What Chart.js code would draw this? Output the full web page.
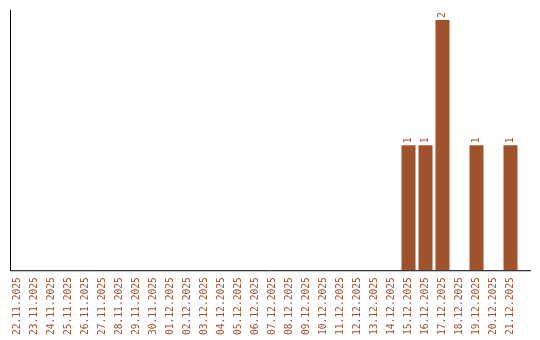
<!DOCTYPE html>
<html>
<head>
<meta charset="utf-8">
<script src="https://cdn.jsdelivr.net/npm/chart.js@4"></script>
<style>
    html, body { margin: 0; padding: 0; background: #ffffff; }
    canvas { display: block; }
</style>
</head>
<body>
<canvas id="dailyChart" width="540" height="340"></canvas>
<script>
const days = [
    '22.11.2025', '23.11.2025', '24.11.2025', '25.11.2025', '26.11.2025',
    '27.11.2025', '28.11.2025', '29.11.2025', '30.11.2025', '01.12.2025',
    '02.12.2025', '03.12.2025', '04.12.2025', '05.12.2025', '06.12.2025',
    '07.12.2025', '08.12.2025', '09.12.2025', '10.12.2025', '11.12.2025',
    '12.12.2025', '13.12.2025', '14.12.2025', '15.12.2025', '16.12.2025',
    '17.12.2025', '18.12.2025', '19.12.2025', '20.12.2025', '21.12.2025'
];
const counts = [
    0, 0, 0, 0, 0,
    0, 0, 0, 0, 0,
    0, 0, 0, 0, 0,
    0, 0, 0, 0, 0,
    0, 0, 0, 1, 1,
    2, 0, 1, 0, 1
];

const barColor = '#a0522d';
const labelFont = '9.6px "DejaVu Sans Mono", monospace';

// axis lines: y on the left, x running a bit past the last bar
const axisLines = {
    id: 'axisLines',
    afterDraw(chart) {
        const { ctx, chartArea } = chart;
        ctx.save();
        ctx.strokeStyle = '#000000';
        ctx.lineWidth = 1;
        ctx.beginPath();
        ctx.moveTo(10.5, chartArea.top);
        ctx.lineTo(10.5, chartArea.bottom + 0.5);
        ctx.lineTo(chartArea.right + 12, chartArea.bottom + 0.5);
        ctx.stroke();
        ctx.restore();
    }
};

// counts written vertically above each bar
const valueLabels = {
    id: 'valueLabels',
    afterDatasetsDraw(chart) {
        const { ctx } = chart;
        const meta = chart.getDatasetMeta(0);
        ctx.save();
        ctx.fillStyle = barColor;
        ctx.font = labelFont;
        ctx.textAlign = 'left';
        ctx.textBaseline = 'middle';
        meta.data.forEach((bar, i) => {
            if (!counts[i]) return;
            ctx.save();
            ctx.translate(bar.x, bar.y - 2);
            ctx.rotate(-Math.PI / 2);
            ctx.fillText(String(counts[i]), 0, 0);
            ctx.restore();
        });
        ctx.restore();
    }
};

new Chart(document.getElementById('dailyChart').getContext('2d'), {
    type: 'bar',
    data: {
        labels: days,
        datasets: [{
            data: counts,
            backgroundColor: barColor,
            borderWidth: 0,
            categoryPercentage: 1,
            barPercentage: 14 / 17
        }]
    },
    options: {
        responsive: false,
        animation: false,
        layout: {
            padding: { top: 10, left: 9, right: 21, bottom: -2 }
        },
        plugins: {
            legend: { display: false },
            tooltip: { enabled: false }
        },
        scales: {
            x: {
                grid: { display: false, drawTicks: false },
                border: { display: false },
                ticks: {
                    autoSkip: false,
                    minRotation: 90,
                    maxRotation: 90,
                    padding: 7,
                    color: barColor,
                    font: { family: '"DejaVu Sans Mono", monospace', size: 9.6 }
                }
            },
            y: {
                display: false,
                min: 0,
                max: 2.08
            }
        }
    },
    plugins: [axisLines, valueLabels]
});
</script>
</body>
</html>
